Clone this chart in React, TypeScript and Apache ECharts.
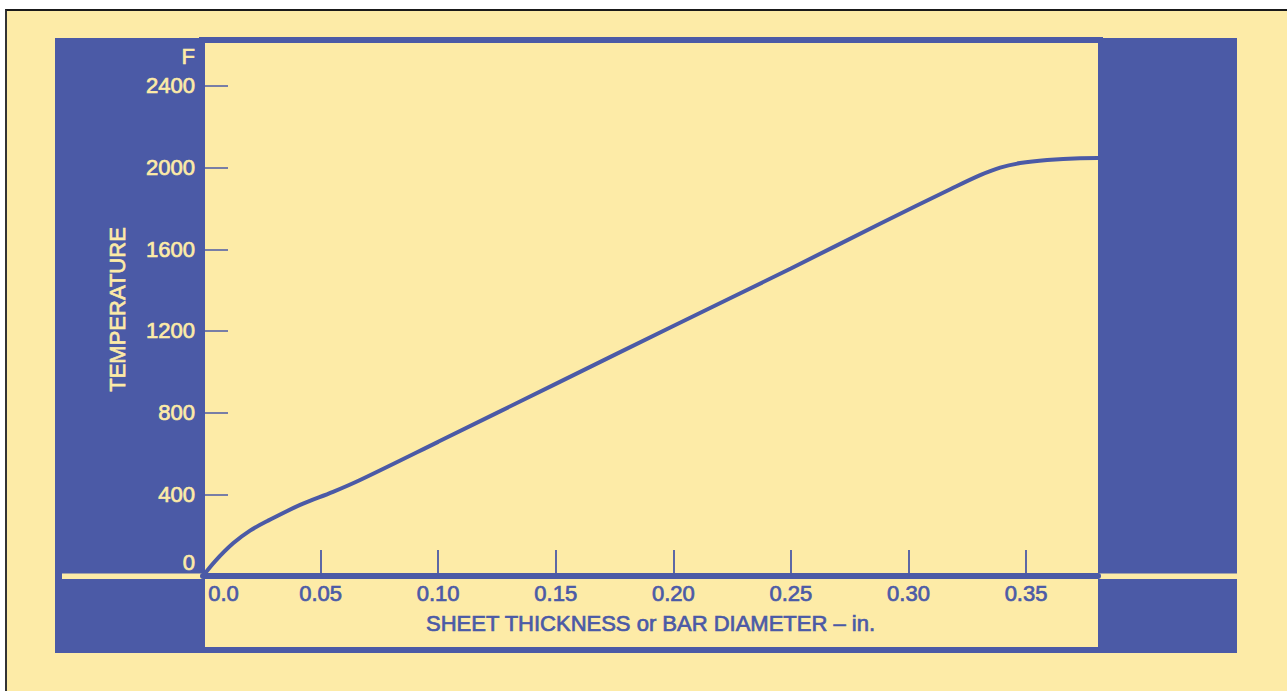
import React, { useEffect, useRef } from "react";
import * as echarts from "echarts";

const thickness = [0, 0.0051, 0.0128, 0.02, 0.0272, 0.0413, 0.0553, 0.0668, 0.1, 0.15, 0.2, 0.25, 0.2879, 0.318, 0.3305, 0.339, 0.3475, 0.359, 0.373, 0.3806];
const temperature = [0, 72, 160, 222, 268, 348, 412, 470, 657, 941, 1224, 1506, 1725, 1895, 1963, 2000, 2022, 2037, 2046, 2047];
const yTicks = [0, 400, 800, 1200, 1600, 2000, 2400];
const xTicks = [0.05, 0.1, 0.15, 0.2, 0.25, 0.3, 0.35];
const xLabels = [0, 0.05, 0.1, 0.15, 0.2, 0.25, 0.3, 0.35];

const BLUE = "#4B5AA6";
const YELLOW = "#FDEBA7";
const FONT = "Liberation Sans, Arial, Helvetica, sans-serif";

export default function App() {
  const ref = useRef<HTMLDivElement>(null);
  useEffect(() => {
    if (!ref.current) return;
    const chart = echarts.init(ref.current, undefined, { renderer: "svg" });
    const yTxt = { color: YELLOW, fontSize: 22, fontFamily: FONT, textBorderColor: YELLOW, textBorderWidth: 0.7 };
    const bTxt = { color: BLUE, fontSize: 22, fontFamily: FONT, textBorderColor: BLUE, textBorderWidth: 0.7 };
    chart.setOption({
      animation: false,
      backgroundColor: "transparent",
      textStyle: { fontFamily: FONT },
      grid: { left: 203, right: 189, top: 43, bottom: 115 },
      graphic: [
        { type: "rect", z: -10, silent: true, shape: { x: 55, y: 38, width: 1182, height: 615 }, style: { fill: BLUE } },
        { type: "rect", z: -9, silent: true, shape: { x: 205, y: 43, width: 893, height: 604 }, style: { fill: YELLOW } },
        { type: "rect", z: -8, silent: true, shape: { x: 199, y: 37, width: 904, height: 6 }, style: { fill: BLUE } },
        { type: "rect", z: -8, silent: true, shape: { x: 62, y: 573.5, width: 1175, height: 5.5 }, style: { fill: YELLOW } },
        {
          type: "text", z: 5, silent: true, x: 195, y: 56,
          style: { text: "F", fill: YELLOW, stroke: YELLOW, lineWidth: 0.7, font: `22px ${FONT}`, align: "right", verticalAlign: "middle" },
        },
      ],
      xAxis: {
        type: "value",
        min: 0,
        max: 0.3806,
        name: "SHEET THICKNESS or BAR DIAMETER \u2013 in.",
        nameLocation: "middle",
        nameGap: 36,
        nameTextStyle: bTxt,
        axisLine: { show: true, lineStyle: { color: BLUE, width: 6 } },
        axisTick: { show: true, inside: true, length: 26, lineStyle: { color: BLUE, width: 1.8 }, customValues: xTicks },
        axisLabel: {
          show: true,
          customValues: xLabels,
          ...bTxt,
          margin: 6,
          formatter: (v: number) => (Math.abs(v) < 1e-9 ? "{z|0.0}" : v.toFixed(2)),
          rich: { z: { ...bTxt, padding: [0, 0, 0, 41] } },
        },
        splitLine: { show: false },
      },
      yAxis: {
        type: "value",
        min: 0,
        max: 2610,
        name: "TEMPERATURE",
        nameLocation: "middle",
        nameGap: 75,
        nameRotate: 90,
        nameTextStyle: yTxt,
        axisLine: { show: false },
        axisTick: { show: true, inside: true, length: 25, lineStyle: { color: BLUE, width: 1.5 }, customValues: yTicks },
        axisLabel: {
          show: true,
          customValues: yTicks,
          ...yTxt,
          margin: 8,
          formatter: (v: number) => (v === 0 ? "{z|0}" : String(v)),
          rich: { z: { ...yTxt, padding: [0, 0, 28, 0] } },
        },
        splitLine: { show: false },
      },
      series: [
        {
          type: "line",
          data: thickness.map((t, i) => [t, temperature[i]]),
          showSymbol: false,
          smooth: 0.35,
          lineStyle: { color: BLUE, width: 4 },
          z: 3,
        },
      ],
    });
    return () => chart.dispose();
  }, []);

  return (
    <div style={{ position: "fixed", left: 0, top: 0, width: 1287, height: 691, background: "#ffffff" }}>
      <div
        style={{
          position: "absolute",
          left: 5,
          top: 9,
          width: 1282,
          height: 682,
          boxSizing: "border-box",
          background: YELLOW,
          borderTop: "2px solid #1a1a1a",
          borderLeft: "2px solid #333333",
        }}
      />
      <div ref={ref} style={{ position: "absolute", left: 0, top: 0, width: 1287, height: 691 }} />
    </div>
  );
}
